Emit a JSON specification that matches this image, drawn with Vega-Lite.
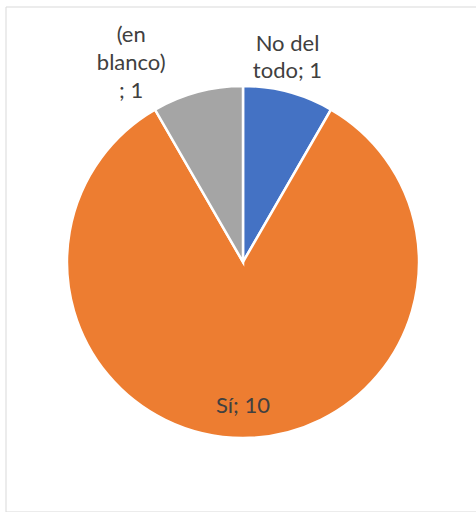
{
  "$schema": "https://vega.github.io/schema/vega-lite/v6.json",
  "width": 474,
  "height": 505,
  "autosize": {"type": "none"},
  "padding": {"left": 6, "top": 7, "right": 0, "bottom": 0},
  "background": "white",
  "config": {"view": {"stroke": null}},
  "datasets": {
    "pie": [
      {"cat": "No del todo", "n": 1, "ord": 1, "label": "No del\ntodo; 1"},
      {"cat": "Sí", "n": 10, "ord": 2, "label": "Sí; 10"},
      {"cat": "(en blanco)", "n": 1, "ord": 3, "label": "(en\nblanco)\n; 1"}
    ],
    "frame": [{"name": "frame"}]
  },
  "layer": [
    {
      "data": {"name": "frame"},
      "mark": {"type": "rect", "fill": null, "stroke": "#d9d9d9", "strokeWidth": 1},
      "encoding": {}
    },
    {
      "data": {"name": "pie"},
      "mark": {"type": "arc", "outerRadius": 176, "stroke": "white", "strokeWidth": 2.5, "yOffset": 2.5},
      "encoding": {
        "theta": {"field": "n", "type": "quantitative", "stack": true},
        "order": {"field": "ord", "type": "quantitative"},
        "color": {
          "field": "cat",
          "type": "nominal",
          "scale": {"domain": ["No del todo", "Sí", "(en blanco)"], "range": ["#4472C4", "#ED7D31", "#A5A5A5"]},
          "legend": null
        }
      }
    },
    {
      "data": {"name": "pie"},
      "mark": {"type": "text", "radius": 226, "dx": -14, "yOffset": 2.5, "lineBreak": "\n", "font": "Lato", "fontSize": 22, "color": "#404040", "align": "center", "baseline": "middle", "lineHeight": 27},
      "encoding": {
        "theta": {"field": "n", "type": "quantitative", "stack": true},
        "order": {"field": "ord", "type": "quantitative"},
        "text": {"condition": {"test": "datum.cat === 'No del todo'", "field": "label"}, "value": ""}
      }
    },
    {
      "data": {"name": "pie"},
      "mark": {"type": "text", "radius": 235, "dx": -51, "yOffset": 2.5, "lineBreak": "\n", "font": "Lato", "fontSize": 22, "color": "#404040", "align": "center", "baseline": "middle", "lineHeight": 28},
      "encoding": {
        "theta": {"field": "n", "type": "quantitative", "stack": true},
        "order": {"field": "ord", "type": "quantitative"},
        "text": {"condition": {"test": "datum.cat === '(en blanco)'", "field": "label"}, "value": ""}
      }
    },
    {
      "data": {"name": "pie"},
      "mark": {"type": "text", "radius": 144, "yOffset": 2.5, "font": "Lato", "fontSize": 22, "color": "#404040", "align": "center", "baseline": "middle"},
      "encoding": {
        "theta": {"field": "n", "type": "quantitative", "stack": true},
        "order": {"field": "ord", "type": "quantitative"},
        "text": {"condition": {"test": "datum.cat === 'Sí'", "field": "label"}, "value": ""}
      }
    }
  ]
}
